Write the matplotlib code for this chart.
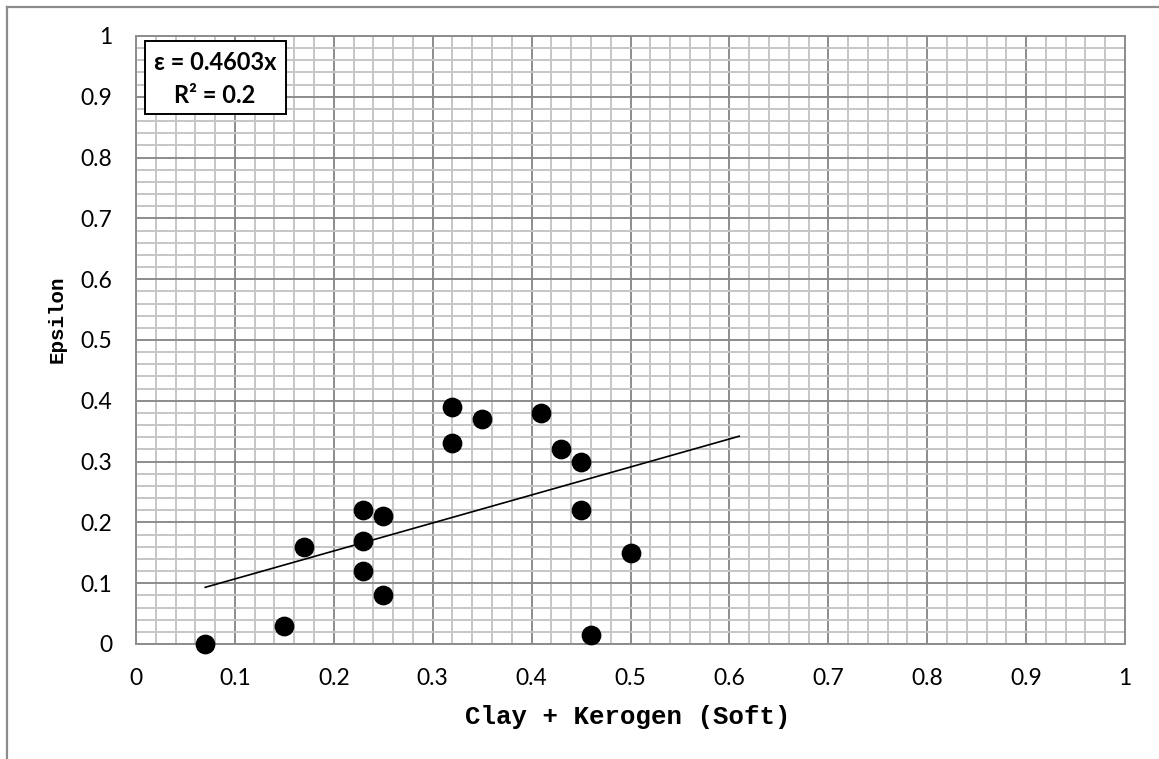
import matplotlib
matplotlib.use("Agg")
import matplotlib.pyplot as plt
import numpy as np
from matplotlib.lines import Line2D
from matplotlib.patches import Rectangle

# Data
clay_kerogen = [0.07, 0.15, 0.17, 0.23, 0.23, 0.23, 0.25, 0.25, 0.32, 0.32,
                0.35, 0.41, 0.43, 0.45, 0.45, 0.50, 0.46]
epsilon = [0.00, 0.03, 0.16, 0.22, 0.17, 0.12, 0.21, 0.08, 0.39, 0.33,
           0.37, 0.38, 0.32, 0.30, 0.22, 0.15, 0.015]
trend_slope = 0.4603
trend_intercept = 0.061
trend_range = [0.07, 0.61]
eq_text = "ε = 0.4603x"
r2_text = "R² = 0.2"
x_ticks = [0, 0.1, 0.2, 0.3, 0.4, 0.5, 0.6, 0.7, 0.8, 0.9, 1]
y_ticks = [0, 0.1, 0.2, 0.3, 0.4, 0.5, 0.6, 0.7, 0.8, 0.9, 1]
tick_labels = ["0", "0.1", "0.2", "0.3", "0.4", "0.5", "0.6", "0.7", "0.8", "0.9", "1"]

W, H = 1159, 759
fig = plt.figure(figsize=(W / 100, H / 100), dpi=100)
L, R, T, B = 136, 1125, 36, 644
ax = fig.add_axes([L / W, 1 - B / H, (R - L) / W, (B - T) / H])

ax.set_xlim(0, 1)
ax.set_ylim(0, 1)
ax.set_xticks(x_ticks)
ax.set_yticks(y_ticks)
ax.set_xticklabels(tick_labels)
ax.set_yticklabels(tick_labels)
ax.set_xticks(np.arange(0, 1.0001, 0.02), minor=True)
ax.set_yticks(np.arange(0, 1.0001, 0.02), minor=True)

ax.grid(which="minor", color="#c6c6c6", linewidth=1.4, zorder=0)
ax.grid(which="major", color="#8c8c8c", linewidth=1.4, zorder=0.5)
ax.set_axisbelow(True)
for s in ax.spines.values():
    s.set_color("#8c8c8c")
    s.set_linewidth(1.4)

ax.tick_params(which="both", length=0)
ax.tick_params(axis="x", pad=17, labelsize=16.5)
ax.tick_params(axis="y", pad=17, labelsize=16.5)
for lab in ax.get_xticklabels() + ax.get_yticklabels():
    lab.set_fontfamily("Lato")

# Trendline
tx = np.array(trend_range)
ax.plot(tx, trend_slope * tx + trend_intercept, color="black", linewidth=1.2, zorder=3)

# Points
ax.scatter(clay_kerogen, epsilon, s=175, color="black", zorder=4, clip_on=False)

# Equation box
ax.add_patch(Rectangle((0.009, 0.872), 0.143, 0.12, transform=ax.transAxes,
                       facecolor="white", edgecolor="black", linewidth=1.4, zorder=5))
ax.text(0.080, 0.957, eq_text, transform=ax.transAxes, ha="center", va="center",
        fontsize=17, fontweight="bold", family="Lato", zorder=6)
ax.text(0.080, 0.902, r2_text, transform=ax.transAxes, ha="center", va="center",
        fontsize=17, fontweight="bold", family="Lato", zorder=6)

# Axis labels
fig.text(628 / W, 1 - 717 / H, "Clay + Kerogen (Soft)", ha="center", va="center",
         fontsize=18.5, fontweight="bold", family="Liberation Mono")
fig.text(57 / W, 1 - 319 / H, "Epsilon", ha="center", va="center", rotation=90,
         fontsize=15, fontweight="bold", family="Liberation Mono")

# Outer chart border
fig.add_artist(Line2D([7 / W, 7 / W], [0, 1 - 7 / H], color="#8c8c8c", linewidth=1.6))
fig.add_artist(Line2D([7 / W, 1], [1 - 7 / H, 1 - 7 / H], color="#8c8c8c", linewidth=1.6))

fig.savefig("out.png", dpi=100)
